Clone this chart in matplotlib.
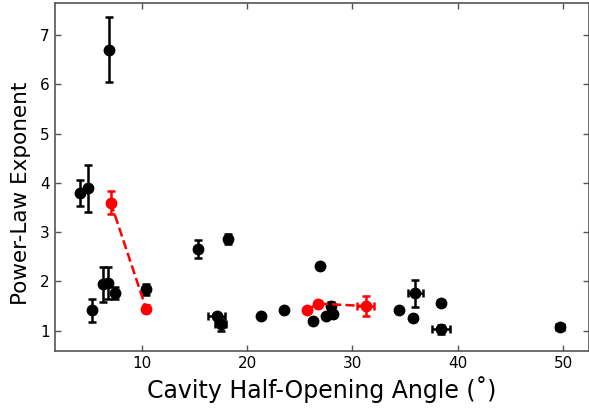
import matplotlib
matplotlib.use("Agg")
import matplotlib.pyplot as plt

# Black data points
bx = [4.14, 4.9, 6.9, 5.28, 6.3, 6.8, 7.46, 10.4, 15.35, 18.2, 17.1, 17.5,
      21.36, 23.5, 26.96, 26.27, 27.47, 28.13, 27.98, 34.37, 35.95, 35.73,
      38.42, 38.42, 49.7]
by = [3.79, 3.89, 6.70, 1.41, 1.94, 1.97, 1.77, 1.84, 2.66, 2.86, 1.30, 1.13,
      1.30, 1.43, 2.32, 1.19, 1.30, 1.34, 1.50, 1.43, 1.76, 1.26,
      1.56, 1.03, 1.08]
byerr = [0.26, 0.48, 0.66, 0.23, 0.35, 0.33, 0.12, 0.11, 0.18, 0.11, 0.06, 0.14,
         0.0, 0.0, 0.06, 0.0, 0.0, 0.06, 0.08, 0.0, 0.27, 0.06,
         0.06, 0.09, 0.05]
bxerr = [0.0, 0.0, 0.0, 0.0, 0.0, 0.0, 0.0, 0.0, 0.0, 0.0, 0.8, 0.5,
         0.0, 0.0, 0.0, 0.0, 0.0, 0.0, 0.0, 0.0, 0.7, 0.0,
         0.3, 0.87, 0.4]

# Red series 1
r1x = [7.06, 10.41]
r1y = [3.60, 1.45]
r1yerr = [0.24, 0.07]
r1xerr = [0.0, 0.0]

# Red series 2
r2x = [25.73, 26.71, 31.25]
r2y = [1.42, 1.55, 1.50]
r2yerr = [0.05, 0.05, 0.20]
r2xerr = [0.0, 0.0, 0.8]

xticks = [10, 20, 30, 40, 50]
yticks = [1, 2, 3, 4, 5, 6, 7]

fig = plt.figure(figsize=(5.89, 4.09), dpi=100)
ax = fig.add_axes([54.7 / 589, 1 - 351 / 409, (588.5 - 54.7) / 589, (351 - 3) / 409])

ax.errorbar(bx, by, yerr=byerr, xerr=bxerr, fmt='o', color='black', ms=7.5,
            elinewidth=1.8, capsize=3, capthick=1.8, zorder=3)
ax.errorbar(r1x, r1y, yerr=r1yerr, xerr=r1xerr, fmt='o--', color='red', ms=7.5,
            lw=1.8, elinewidth=1.8, capsize=3, capthick=1.8, zorder=4)
ax.errorbar(r2x, r2y, yerr=r2yerr, xerr=r2xerr, fmt='o--', color='red', ms=7.5,
            lw=1.8, elinewidth=1.8, capsize=3, capthick=1.8, zorder=4)

ax.set_xlim(1.74, 52.4)
ax.set_ylim(0.588, 7.65)
ax.set_xticks(xticks)
ax.set_yticks(yticks)
ax.tick_params(direction='in', top=True, right=True, length=4, width=1,
               color='#555555', labelsize=11)
for s in ax.spines.values():
    s.set_color('#555555')
    s.set_linewidth(1.2)

ax.set_xlabel('Cavity Half-Opening Angle (˚)', fontsize=17)
ax.set_ylabel('Power-Law Exponent', fontsize=15.5)
ax.yaxis.set_label_coords(-0.045, 0.452)

fig.savefig('out.png', dpi=100)
